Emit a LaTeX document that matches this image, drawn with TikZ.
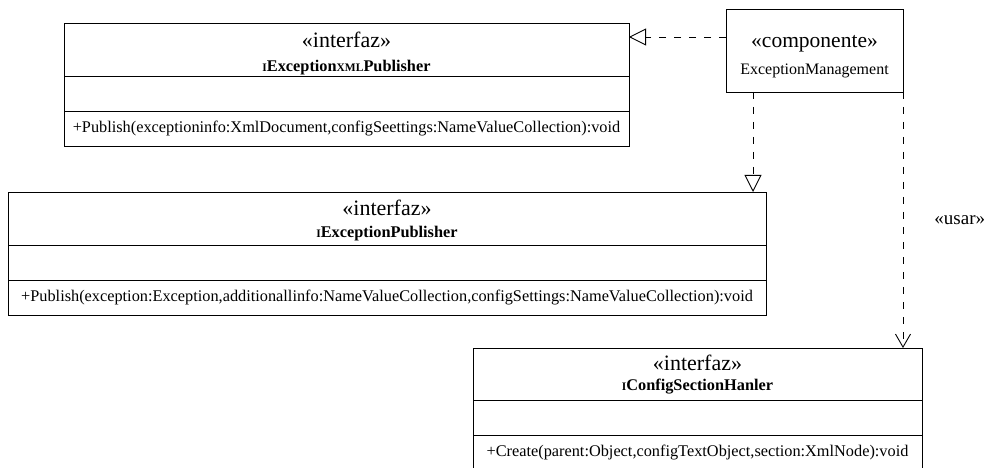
\documentclass[tikz,border=0pt]{standalone}
\usepackage{fontspec}
\setmainfont{Liberation Serif}
\usetikzlibrary{arrows.meta,positioning,calc}
\newcommand{\fsc}[1]{{\fontsize{11.5}{11.5}\selectfont #1}}
\newcommand{\clname}[1]{{\fontsize{16.3}{18}\selectfont\bfseries #1}}

\begin{document}
\begin{tikzpicture}[
    x=1pt, y=-1pt,
    every node/.style={align=center},
    umlbox/.style={rectangle, draw, line width=0.9pt, outer sep=0pt, inner sep=0pt},
    header/.style={umlbox, anchor=north west, minimum height=53pt, font=\fontsize{22}{24}\selectfont},
    attrs/.style={umlbox, minimum height=35pt},
    ops/.style={umlbox, minimum height=35pt, font=\fontsize{16.3}{19}\selectfont},
    dashline/.style={line width=0.9pt, dash pattern=on 7pt off 8pt},
]
    \useasboundingbox (0,0) rectangle (994,468);

    % interfaces
    \node[header, minimum width=565pt] (xmlpub) at (64,23) {\rule{0pt}{23pt}«interfaz»\\\clname{\fsc{I}Exception\fsc{XML}Publisher}};
    \node[attrs, minimum width=565pt, below=0pt of xmlpub] (xmlpubattr) {};
    \node[ops, minimum width=565pt, below=0pt of xmlpubattr] (xmlpubops) {+Publish(exceptioninfo:XmlDocument,configSeettings:NameValueCollection):void};

    \node[header, minimum width=758pt, font=\fontsize{22}{22}\selectfont] (pub) at (8,192) {\rule{0pt}{20pt}«interfaz»\\\clname{\fsc{I}ExceptionPublisher}};
    \node[attrs, minimum width=758pt, below=0pt of pub] (pubattr) {};
    \node[ops, minimum width=758pt, below=0pt of pubattr] (pubops) {+Publish(exception:Exception,additionallinfo:NameValueCollection,configSettings:NameValueCollection):void};

    \node[header, minimum width=449pt, minimum height=52pt, font=\fontsize{22}{20}\selectfont] (cfg) at (473,348) {\rule{0pt}{17pt}«interfaz»\\\clname{\fsc{I}ConfigSectionHanler}};
    \node[attrs, minimum width=449pt, below=0pt of cfg] (cfgattr) {};
    \node[ops, minimum width=449pt, below=0pt of cfgattr] (cfgops) {+Create(parent:Object,configTextObject,section:XmlNode):void};

    % component
    \node[umlbox, minimum width=177pt, minimum height=83pt, font=\fontsize{21.5}{27}\selectfont] (comp) at (814.5,50.5) {\rule{0pt}{25pt}«componente»\\{\fontsize{16}{19}\selectfont ExceptionManagement}};

    % connectors
    \coordinate (realsrc) at ($(comp.north west)+(0,28)$);
    \coordinate (gensrc) at ($(comp.south west)+(27,0)$);
    \draw[dashline, -{Triangle[open, length=17pt, width=17pt, line width=0.9pt]}] (realsrc) -- (realsrc -| xmlpub.east);
    \draw[dashline, -{Triangle[open, length=17pt, width=17pt, line width=0.9pt]}] (gensrc) -- (gensrc |- pub.north);
    \draw[dashline, -{Straight Barb[length=13pt, width=15pt, line width=0.9pt]}] (comp.south east) -- (comp.south east |- cfg.north)
        node[pos=0.5, anchor=west, inner sep=0pt, xshift=31pt, font=\fontsize{19}{20}\selectfont] (usar) {«usar»};
\end{tikzpicture}
\end{document}
